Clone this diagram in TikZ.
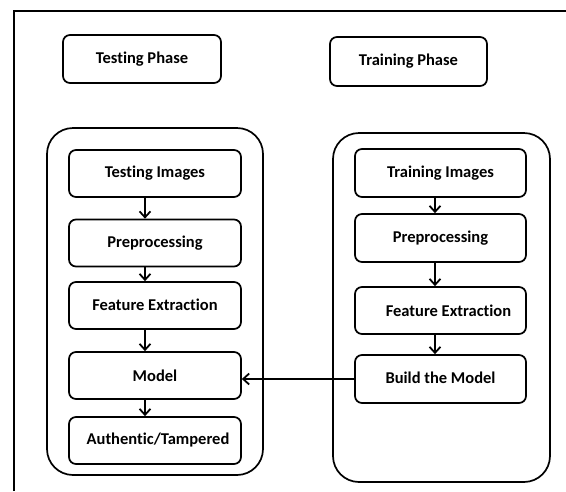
\documentclass[tikz,border=0pt]{standalone}
\usepackage{fontspec}
\setmainfont[Ligatures=NoCommon]{Carlito}
\usetikzlibrary{arrows.meta}
\begin{document}
\begin{tikzpicture}[x=1pt,y=-1pt,
  box/.style={draw,line width=1.7pt,rounded corners=7pt,minimum height=47pt,inner sep=0pt,font=\fontsize{16.5}{19}\selectfont\bfseries},
  cont/.style={draw,line width=1.7pt,rounded corners=26pt},
  arr/.style={line width=1.8pt,-{Straight Barb[length=6pt,width=11pt,line width=1.8pt]}}]
\useasboundingbox (0,0) rectangle (566,491);
% frame
\draw[line width=1.8pt] (14,491) -- (14,11) -- (566,11);
% phase boxes
\node[box,minimum width=158pt,minimum height=48pt] (tp) at (142,59) {\raisebox{2pt}{Testing Phase}};
\node[box,minimum width=157pt,minimum height=49pt] (trp) at (408.5,61.5) {\raisebox{2pt}{Training Phase}};
% containers
\draw[cont] (47,128) rectangle (263,475);
\draw[cont] (333,133) rectangle (550,482);
% left column
\node[box,minimum width=172pt] (ti) at (155,173.5) {Testing Images};
\node[box,minimum width=172pt] (pl) at (155,243) {Preprocessing};
\node[box,minimum width=172pt] (fl) at (155,305.5) {\raisebox{2pt}{Feature Extraction}};
\node[box,minimum width=172pt] (md) at (155,375.5) {Model};
\node[box,minimum width=172pt] (at) at (155,440.5) {\hspace{6pt}Authentic/Tampered};
% right column
\node[box,minimum width=171pt,minimum height=48pt] (tri) at (440.5,173) {Training Images};
\node[box,minimum width=171pt,minimum height=48pt] (pr) at (440.5,238) {Preprocessing};
\node[box,minimum width=171pt,minimum height=47pt] (fr) at (440.5,310.5) {\hspace{16pt}Feature Extraction};
\node[box,minimum width=171pt,minimum height=48pt] (bm) at (440.5,379) {\raisebox{2pt}{Build the Model}};
\coordinate (cl) at (145,0);
\coordinate (cr) at (435,0);
\draw[arr] (ti.south -| cl) -- (pl.north -| cl);
\draw[arr] (pl.south -| cl) -- (fl.north -| cl);
\draw[arr] (fl.south -| cl) -- (md.north -| cl);
\draw[arr] (md.south -| cl) -- (at.north -| cl);
\draw[arr] (tri.south -| cr) -- (pr.north -| cr);
\draw[arr] (pr.south -| cr) -- (fr.north -| cr);
\draw[arr] (fr.south -| cr) -- (bm.north -| cr);
\draw[arr] (bm.west) -- (bm.west -| md.east);
\end{tikzpicture}
\end{document}
